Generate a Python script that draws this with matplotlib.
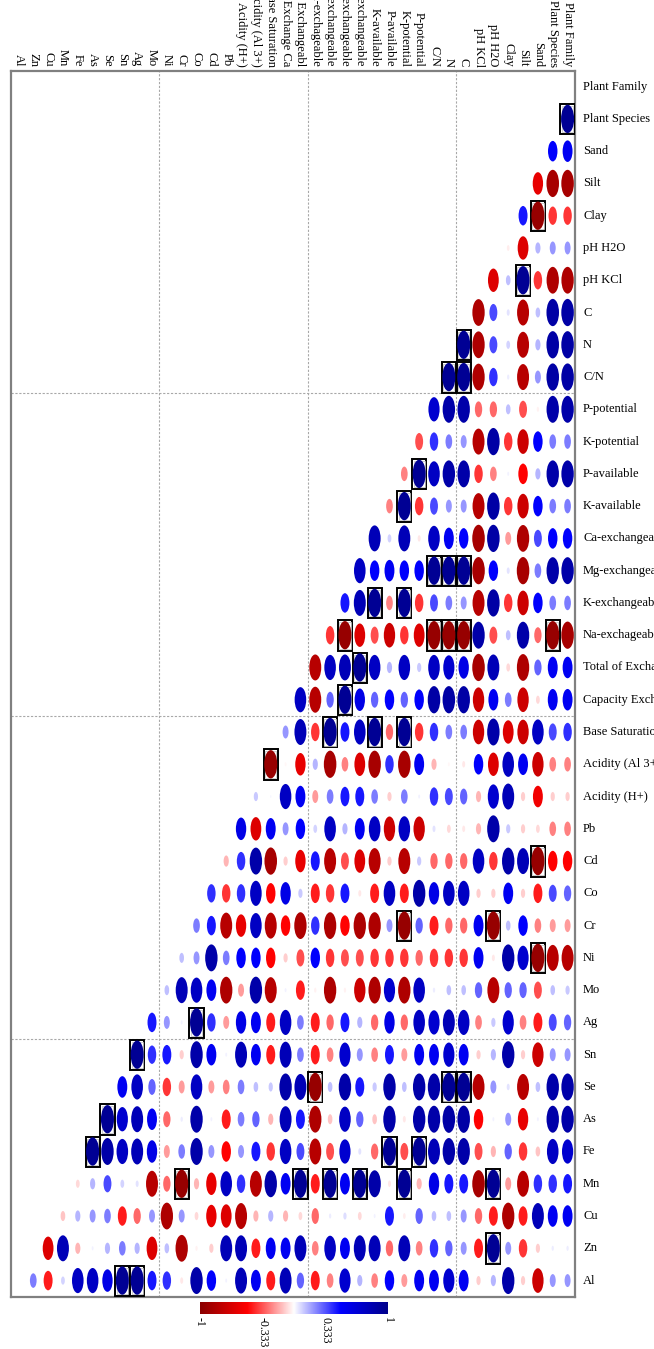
import numpy as np
import matplotlib
matplotlib.use('Agg')
import matplotlib.pyplot as plt
from matplotlib.patches import Ellipse, Rectangle
from matplotlib.colors import LinearSegmentedColormap

plt.rcParams['font.family'] = 'Liberation Serif'

labels = [
    "Plant Family", "Plant Species", "Sand", "Silt", "Clay", "pH H2O", "pH KCl",
    "C", "N", "C/N", "P-potential", "K-potential", "P-available", "K-available",
    "Ca-exchangeable", "Mg-exchangeable", "K-exchangeable", "Na-exchageable",
    "Total of Exchangeabl", "Capacity Exchange Ca", "Base Saturation",
    "Acidity (Al 3+)", "Acidity (H+)", "Pb", "Cd", "Co", "Cr", "Ni", "Mo", "Ag",
    "Sn", "Se", "As", "Fe", "Mn", "Cu", "Zn", "Al",
]

# lower triangle of the correlation matrix, row i holds r(i, 0..i-1)
corr_lower = [
    [],
    [0.95],
    [0.55, 0.5],
    [-0.88, -0.88, -0.6],
    [-0.4, -0.4, -0.95, 0.45],
    [0.2, 0.2, 0.15, -0.65, -0.04],
    [-0.85, -0.85, -0.4, 0.95, 0.12, -0.65],
    [0.88, 0.88, 0.12, -0.8, 0.05, 0.35, -0.85],
    [0.88, 0.88, 0.15, -0.8, 0.08, 0.35, -0.85, 0.95],
    [0.88, 0.88, 0.2, -0.8, 0.03, 0.4, -0.85, 0.95, 0.95],
    [0.86, 0.86, -0.03, -0.35, 0.12, -0.3, -0.3, 0.86, 0.86, 0.7],
    [0.25, 0.25, 0.5, -0.72, -0.4, 0.88, -0.8, 0.2, 0.25, 0.4, -0.35],
    [0.86, 0.86, 0.15, -0.5, 0.02, -0.25, -0.4, 0.86, 0.86, 0.75, 0.95, -0.25],
    [0.25, 0.25, 0.5, -0.72, -0.4, 0.88, -0.8, 0.2, 0.2, 0.35, -0.4, 0.95, -0.25],
    [0.5, 0.5, 0.35, -0.85, -0.2, 0.88, -0.88, 0.5, 0.55, 0.75, -0.05, 0.8, 0.08, 0.8],
    [0.86, 0.86, 0.25, -0.88, 0.05, 0.5, -0.88, 0.95, 0.95, 0.95, 0.5, 0.5, 0.55, 0.5,
     0.75],
    [0.25, 0.25, 0.5, -0.72, -0.4, 0.88, -0.8, 0.2, 0.25, 0.35, -0.4, 0.95, -0.25, 0.95,
     0.8, 0.45],
    [-0.88, -0.95, -0.3, 0.86, 0.12, -0.35, 0.86, -0.95, -0.95, -0.95, -0.65, -0.4, -0.72,
     -0.35, -0.65, -0.95, -0.4],
    [0.55, 0.55, 0.3, -0.85, -0.08, 0.8, -0.88, 0.6, 0.7, 0.75, 0.1, 0.75, 0.15, 0.75, 0.95,
     0.8, 0.75, -0.8],
    [0.55, 0.55, -0.08, -0.72, 0.25, 0.55, -0.72, 0.88, 0.88, 0.88, 0.5, 0.3, 0.5, 0.3, 0.6,
     0.95, 0.3, -0.8, 0.75],
    [0.4, 0.35, 0.75, -0.72, -0.65, 0.86, -0.72, 0.25, 0.25, 0.4, -0.4, 0.95, -0.3, 0.95,
     0.75, 0.45, 0.95, -0.4, 0.8, 0.2],
    [-0.25, -0.25, -0.72, 0.55, 0.75, -0.65, 0.5, -0.05, -0.02, -0.15, 0.55, -0.88, 0.4,
     -0.88, -0.65, -0.25, -0.88, 0.15, -0.6, -0.02, -0.95],
    [-0.1, -0.1, -0.55, -0.1, 0.8, 0.7, -0.15, 0.3, 0.35, 0.4, 0.02, 0.25, -0.1, 0.25,
     0.45, 0.45, 0.25, -0.2, 0.55, 0.75, 0.01, 0.1],
    [-0.25, -0.25, -0.08, -0.1, 0.1, 0.86, -0.15, -0.05, -0.08, 0.05, -0.72, 0.75, -0.72,
     0.75, 0.55, 0.15, 0.75, 0.08, 0.5, 0.2, 0.55, -0.65, 0.6],
    [-0.5, -0.5, -0.95, 0.8, 0.86, -0.4, 0.75, -0.3, -0.3, -0.3, 0.1, -0.8, -0.1, -0.8,
     -0.65, -0.35, -0.8, 0.45, -0.6, -0.1, -0.88, 0.86, 0.4, -0.15],
    [0.3, 0.35, -0.45, -0.1, 0.55, -0.1, -0.1, 0.75, 0.75, 0.6, 0.86, -0.45, 0.75, -0.45,
     -0.05, 0.45, -0.4, -0.45, 0.1, 0.6, -0.5, 0.75, 0.4, -0.4, 0.4],
    [-0.2, -0.2, -0.25, 0.5, 0.12, -0.95, 0.55, -0.3, -0.3, -0.45, 0.3, -0.95, 0.2, -0.85,
     -0.85, -0.5, -0.85, 0.4, -0.85, -0.5, -0.8, 0.75, -0.6, -0.8, 0.45, 0.25],
    [-0.8, -0.8, -0.95, 0.7, 0.86, -0.05, 0.55, -0.4, -0.4, -0.4, -0.3, -0.4, -0.4, -0.4,
     -0.35, -0.35, -0.4, 0.5, -0.35, -0.1, -0.5, 0.5, 0.5, 0.25, 0.86, 0.2, 0.12],
    [0.1, 0.12, -0.35, 0.3, 0.3, -0.8, 0.3, 0.12, 0.12, 0.03, 0.75, -0.85, 0.7, -0.85,
     -0.72, -0.03, -0.85, -0.03, -0.45, 0.02, -0.8, 0.86, -0.2, -0.85, 0.55, 0.75, 0.8,
     0.12],
    [0.3, 0.35, -0.45, -0.25, 0.7, 0.1, -0.25, 0.75, 0.8, 0.7, 0.75, -0.3, 0.6, -0.3, 0.15,
     0.45, -0.3, -0.45, 0.25, 0.75, -0.45, 0.55, 0.6, -0.2, 0.4, 0.95, 0.02, 0.2, 0.45],
    [0.2, 0.2, -0.72, -0.1, 0.86, 0.15, -0.1, 0.55, 0.7, 0.55, 0.55, -0.2, 0.45, -0.25,
     0.2, 0.7, -0.25, -0.45, 0.25, 0.8, -0.45, 0.55, 0.8, 0.02, 0.55, 0.86, -0.1, 0.45,
     0.4, 0.95],
    [0.86, 0.86, 0.12, -0.8, 0.05, 0.2, -0.8, 0.95, 0.95, 0.86, 0.86, 0.12, 0.86, 0.1,
     0.45, 0.86, 0.12, -0.95, 0.8, 0.86, 0.1, 0.12, 0.25, -0.25, -0.2, 0.75, -0.2, -0.4,
     0.3, 0.75, 0.55],
    [0.86, 0.86, 0.02, -0.6, 0.2, 0.02, -0.5, 0.88, 0.88, 0.86, 0.86, -0.05, 0.86, -0.12,
     0.3, 0.75, -0.12, -0.85, 0.45, 0.8, -0.15, 0.3, 0.25, -0.45, 0.02, 0.86, 0.03, -0.3,
     0.55, 0.8, 0.7, 0.95],
    [0.7, 0.75, -0.12, -0.4, 0.3, -0.15, -0.35, 0.86, 0.86, 0.8, 0.95, -0.35, 0.95, -0.3,
     0.05, 0.7, -0.35, -0.8, 0.35, 0.75, -0.4, 0.45, 0.2, -0.5, 0.2, 0.86, 0.25, -0.2, 0.6,
     0.8, 0.75, 0.86, 0.95],
    [0.45, 0.4, 0.4, -0.8, -0.2, 0.95, -0.88, 0.45, 0.45, 0.6, -0.15, 0.95, -0.05, 0.86,
     0.95, 0.55, 0.95, -0.45, 0.95, 0.55, 0.86, -0.8, 0.4, 0.75, -0.6, -0.15, -0.95, -0.3,
     -0.8, 0.05, 0.08, 0.35, 0.15, -0.08],
    [0.55, 0.55, 0.8, -0.45, -0.85, -0.45, -0.3, 0.2, 0.12, 0.12, 0.3, -0.04, 0.45, 0.02,
     -0.08, 0.06, 0.03, -0.3, -0.08, -0.15, 0.15, -0.15, -0.8, -0.65, -0.6, -0.08, 0.2,
     -0.85, 0.2, -0.3, -0.45, 0.25, 0.2, 0.15, -0.12],
    [0.03, 0.03, -0.1, -0.4, 0.2, 0.95, -0.45, 0.2, 0.3, 0.4, -0.25, 0.8, -0.3, 0.8, 0.8,
     0.55, 0.75, -0.25, 0.8, 0.55, 0.55, -0.45, 0.8, 0.8, -0.1, -0.03, -0.85, 0.12, -0.65,
     0.15, 0.25, 0.15, 0.02, -0.15, 0.8, -0.65],
    [0.2, 0.2, -0.72, -0.1, 0.86, 0.15, -0.1, 0.55, 0.7, 0.55, 0.55, -0.2, 0.5, -0.25,
     0.15, 0.7, -0.25, -0.45, 0.3, 0.8, -0.45, 0.55, 0.8, 0.02, 0.5, 0.86, -0.05, 0.4, 0.45,
     0.95, 0.95, 0.6, 0.75, 0.75, 0.08, -0.45, 0.25],
]

cbar_ticks = [-1, -0.333, 0.333, 1]
cbar_ticklabels = ["-1", "-0.333", "0.333", "1"]

n = len(labels)
corr = np.eye(n)
for i, row in enumerate(corr_lower):
    assert len(row) == i, (labels[i], len(row))
    for k, v in enumerate(row):
        corr[i, k] = corr[k, i] = v

cmap = LinearSegmentedColormap.from_list(
    "corr", ["#8B0000", "#FF0000", "#FFFFFF", "#0000FF", "#00008B"], N=200)

W, H = 654, 1349
fig = plt.figure(figsize=(W / 100, H / 100), dpi=100)

# plot box in pixel units
left, right, top, bottom = 11, 575, 70.5, 1296.7
ax = fig.add_axes([left / W, 1 - bottom / H, (right - left) / W, (bottom - top) / H])
ax.set_xlim(0, n)
ax.set_ylim(n, 0)
ax.set_xticks([])
ax.set_yticks([])
for s in ax.spines.values():
    s.set_color("#808080")
    s.set_linewidth(1.6)


def xpos(k):
    # first variable sits at the right edge
    return n - k - 0.5


for g in (10, 20, 30):
    ax.axvline(g, color="#a8a8a8", lw=0.8, ls=(0, (2, 1.5)), zorder=1)
    ax.axhline(g, color="#a8a8a8", lw=0.8, ls=(0, (2, 1.5)), zorder=1)

for i in range(n):
    for k in range(i):
        r = corr[i, k]
        x, y = xpos(k), i + 0.5
        d = 0.9 * np.sqrt(abs(r))
        if abs(r) >= 0.9:
            ax.add_patch(Rectangle((x - 0.48, y - 0.46), 0.96, 0.94, fill=False,
                                   ec="black", lw=1.4, zorder=3))
            ax.add_patch(Rectangle((x - 0.38, y - 0.40), 0.76, 0.82, fill=False,
                                   ec="#c8c8c8", lw=0.6, zorder=3))
        ax.add_patch(Ellipse((x, y), d, d, fc=cmap((r + 1) / 2), ec="none", zorder=4))

# variable names: columns on top, rows on the right
for k, name in enumerate(labels):
    ax.text(xpos(k), -0.12, name, rotation=270, ha="center", va="bottom",
            fontsize=9, color="black", clip_on=False)
for i, name in enumerate(labels):
    ax.text(n + 0.55, i + 0.5, name, ha="left", va="center",
            fontsize=9, color="black", clip_on=False)

# colour legend
cax = fig.add_axes([200 / W, 1 - 1314.3 / H, 188 / W, 12.6 / H])
cax.imshow(np.linspace(-1, 1, 200)[None, :], cmap=cmap, aspect="auto",
           extent=[-1, 1, 0, 1], vmin=-1, vmax=1)
cax.set_xlim(-1, 1)
cax.set_xticks([])
cax.set_yticks([])
for s in cax.spines.values():
    s.set_visible(False)
for t, lab in zip(cbar_ticks, cbar_ticklabels):
    cax.text(t, -0.25, lab, rotation=270, ha="center", va="top", fontsize=8.5,
             clip_on=False)

fig.savefig("out.png", dpi=100)
